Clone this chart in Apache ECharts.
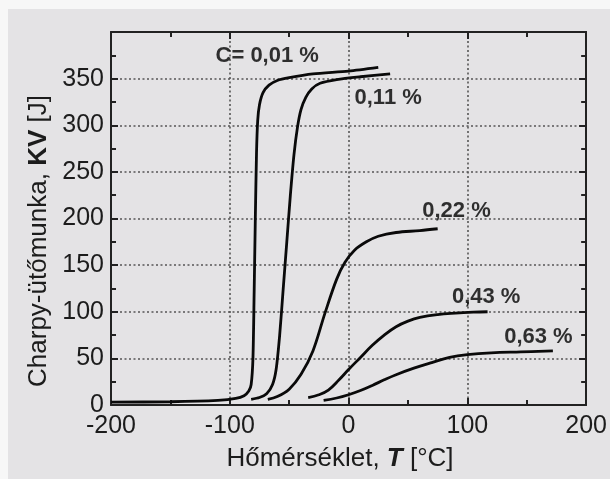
<!DOCTYPE html>
<html><head><meta charset="utf-8">
<script src="https://cdn.jsdelivr.net/npm/echarts@6/dist/echarts.min.js"></script>
<style>html,body{margin:0;padding:0;background:#f7f7f7;}#c{width:610px;height:479px;}</style>
</head><body><div id="c"></div>
<script>
// Temperatures (°C) and Charpy energies (J)
const t001 = [-200,-150,-110,-95,-88,-84,-82,-80.5,-79.5,-78.5,-77.5,-76.5,-75,-72,-67,-60,-50,-30,0,25];
const kv001 = [3,3.5,5,7,10,15,22,50,120,200,270,305,322,335,343,348,351,355,358,362];
const t011 = [-82,-75,-69,-64,-61,-58,-55,-52,-49,-46,-43,-40,-36,-31,-24,-10,10,35];
const kv011 = [6,8,12,22,38,75,125,175,225,268,298,317,330,339,345,349,352,355];
const t022 = [-68,-60,-50,-40,-30,-20,-10,-3,5,15,25,40,60,75];
const kv022 = [6,9,17,33,58,98,135,153,166,175,181,185,187,189];
const t043 = [-34,-25,-17,-8,0,10,20,30,40,50,60,75,90,105,117];
const kv043 = [8,11,16,27,38,51,64,75,84,90,94,97,98.5,99.5,100];
const t063 = [-21,-10,0,10,20,30,40,55,70,85,100,120,145,172];
const kv063 = [5,7.5,11,15.5,21,27,32.5,39.5,45.5,51,54,56,57,58];
// Curve labels: text, left-edge temperature, centre energy
const labelTexts = ['C= 0,01 %','0,11 %','0,22 %','0,43 %','0,63 %'];
const labelT = [-112,5,62,87,131];
const labelKV = [374,329,208,116,73];
const xTicks = [-200,-100,0,100,200];
const yTicks = [0,50,100,150,200,250,300,350];

const zip = (a,b)=>a.map((v,i)=>[v,b[i]]);
const curve = (t,k,s)=>({type:'line',data:zip(t,k),showSymbol:false,smooth:s,
  lineStyle:{color:'#0a0a0a',width:2.8},silent:true,z:5});
const FONT='"Liberation Sans", Arial, sans-serif';
const chart = echarts.init(document.getElementById('c'),null,{renderer:'canvas'});
const axisCommon = {
  axisLine:{show:true,onZero:false,lineStyle:{color:'#222',width:2}},
  axisTick:{show:true,inside:true,length:7,lineStyle:{color:'#222',width:2}},
  minorTick:{show:true,splitNumber:2,length:5,lineStyle:{color:'#222',width:2}},
};
chart.setOption({
  animation:false,
  backgroundColor:'transparent',
  grid:{left:111,right:19,top:32,bottom:74},
  graphic:[
    {type:'rect',left:8,top:9,shape:{width:602,height:470},style:{fill:'#e4e3e5'},z:-10},
    {type:'text',x:39,y:241,rotation:Math.PI/2,style:{
      text:'{n|Charpy-ütőmunka, }{b|KV}{n| [J]}',align:'center',verticalAlign:'middle',
      rich:{n:{fontFamily:FONT,fontSize:26,fill:'#1c1c1c'},b:{fontFamily:FONT,fontSize:26,fontWeight:'bold',fill:'#1c1c1c'}}}},
    {type:'text',x:340,y:459,style:{
      text:'{n|Hőmérséklet, }{b|T}{n| [°C]}',align:'center',verticalAlign:'middle',
      rich:{n:{fontFamily:FONT,fontSize:26,fill:'#1c1c1c'},b:{fontFamily:FONT,fontSize:26,fontWeight:'bold',fontStyle:'italic',fill:'#1c1c1c'}}}}
  ],
  xAxis:[
    Object.assign({type:'value',min:-200,max:200,interval:100,position:'bottom',
      axisLabel:{fontFamily:FONT,fontSize:25,color:'#1c1c1c',margin:9,
        formatter:v=>xTicks.includes(v)?String(v):''},
      splitLine:{show:true,lineStyle:{color:'#555',type:[2,2.5],width:1.6}}},axisCommon),
    Object.assign({type:'value',min:-200,max:200,interval:100,position:'top',
      axisLabel:{show:false},splitLine:{show:false}},axisCommon)
  ],
  yAxis:[
    Object.assign({type:'value',min:0,max:400,interval:50,position:'left',
      axisLabel:{fontFamily:FONT,fontSize:25,color:'#1c1c1c',margin:7,
        formatter:v=>yTicks.includes(v)?String(v):''},
      splitLine:{show:true,lineStyle:{color:'#555',type:[2,2.5],width:1.6}}},axisCommon),
    Object.assign({type:'value',min:0,max:400,interval:50,position:'right',
      axisLabel:{show:false},splitLine:{show:false}},axisCommon)
  ],
  series:[
    curve(t001,kv001,0.25),curve(t011,kv011,0.25),curve(t022,kv022,0.35),curve(t043,kv043,0.4),curve(t063,kv063,0.4),
    {type:'scatter',symbolSize:0,silent:true,z:6,
      data:labelTexts.map((s,i)=>({value:[labelT[i],labelKV[i]],name:s})),
      label:{show:true,position:'right',distance:0,formatter:p=>p.name,
        fontFamily:FONT,fontSize:22,fontWeight:'bold',color:'#000'}}
  ]
});
</script></body></html>
